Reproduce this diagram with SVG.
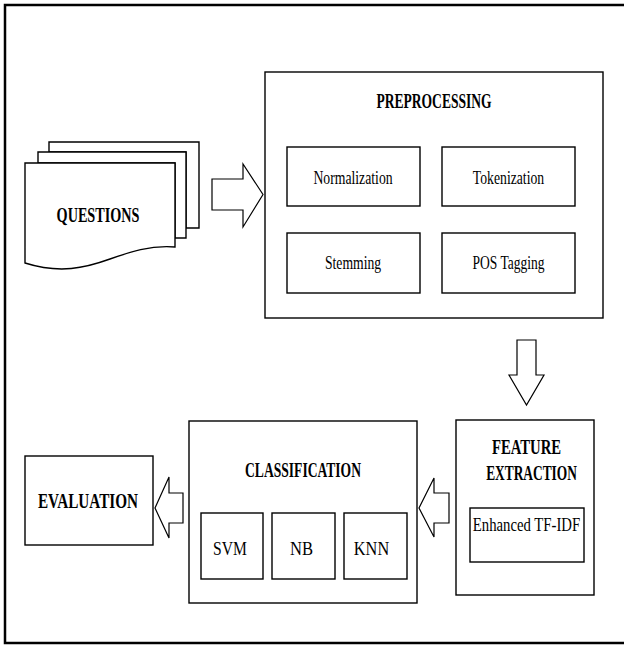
<svg xmlns="http://www.w3.org/2000/svg" width="624" height="646" viewBox="0 0 624 646">
<style>
.box{fill:#fff;stroke:#000;stroke-width:1.4}
.arr{fill:#fff;stroke:#000;stroke-width:1.2;stroke-linejoin:miter}
.t{font-family:'Liberation Serif','DejaVu Serif',serif;fill:#000;text-anchor:middle}
.b{font-weight:bold;font-size:21px}
.r{font-size:19px}
</style>
<rect x="0" y="0" width="624" height="646" fill="#fff"/>
<rect x="5" y="5" width="640" height="638" fill="none" stroke="#000" stroke-width="2.5"/>

<g id="questions">
<path class="box" d="M49,142 H199 V228 H186 V152 H49 Z"/>
<path class="box" d="M38,152 H186 V238 H175 V163 H38 Z"/>
<path class="box" d="M25,163 H175 V247 C150,245 130,252 110,259 C85,268 60,274 25,263 Z"/>
<text class="t b" transform="translate(98,222) scale(0.72,1)" textLength="115" lengthAdjust="spacingAndGlyphs">QUESTIONS</text>
</g>

<g id="preprocessing">
<rect class="box" x="265" y="72" width="338" height="246"/>
<text class="t b" transform="translate(434,108) scale(0.72,1)" textLength="160" lengthAdjust="spacingAndGlyphs">PREPROCESSING</text>
</g>
<g id="normalization">
<rect class="box" x="287" y="147" width="133" height="59"/>
<text class="t r" transform="translate(353,184) scale(0.72,1)" textLength="110" lengthAdjust="spacingAndGlyphs">Normalization</text>
</g>
<g id="tokenization">
<rect class="box" x="442" y="147" width="133" height="59"/>
<text class="t r" transform="translate(508.5,184) scale(0.72,1)" textLength="99" lengthAdjust="spacingAndGlyphs">Tokenization</text>
</g>
<g id="stemming">
<rect class="box" x="287" y="233" width="133" height="60"/>
<text class="t r" transform="translate(353,269) scale(0.72,1)" textLength="78" lengthAdjust="spacingAndGlyphs">Stemming</text>
</g>
<g id="postagging">
<rect class="box" x="442" y="233" width="133" height="60"/>
<text class="t r" transform="translate(508.5,269) scale(0.72,1)" textLength="100" lengthAdjust="spacingAndGlyphs">POS Tagging</text>
</g>

<g id="feature">
<rect class="box" x="456" y="420" width="138" height="175"/>
<text class="t b" transform="translate(526.5,454) scale(0.72,1)" textLength="96" lengthAdjust="spacingAndGlyphs">FEATURE</text>
<text class="t b" transform="translate(531.5,480) scale(0.72,1)" textLength="126" lengthAdjust="spacingAndGlyphs">EXTRACTION</text>
</g>
<g id="tfidf">
<rect class="box" x="470" y="508" width="114" height="54"/>
<text class="t r" transform="translate(526.5,531) scale(0.72,1)" textLength="149" lengthAdjust="spacingAndGlyphs">Enhanced TF-IDF</text>
</g>

<g id="classification">
<rect class="box" x="189" y="421" width="228" height="182"/>
<text class="t b" transform="translate(303,477) scale(0.72,1)" textLength="161" lengthAdjust="spacingAndGlyphs">CLASSIFICATION</text>
</g>
<g id="svm">
<rect class="box" x="201" y="513" width="62" height="66"/>
<text class="t r" transform="translate(230,555) scale(0.72,1)" textLength="47" lengthAdjust="spacingAndGlyphs">SVM</text>
</g>
<g id="nb">
<rect class="box" x="272" y="513" width="63" height="66"/>
<text class="t r" transform="translate(301.5,555) scale(0.72,1)" textLength="32" lengthAdjust="spacingAndGlyphs">NB</text>
</g>
<g id="knn">
<rect class="box" x="344" y="513" width="63" height="66"/>
<text class="t r" transform="translate(371.5,555) scale(0.72,1)" textLength="49" lengthAdjust="spacingAndGlyphs">KNN</text>
</g>

<g id="evaluation">
<rect class="box" x="25" y="456" width="128" height="89"/>
<text class="t b" transform="translate(88,508) scale(0.72,1)" textLength="139" lengthAdjust="spacingAndGlyphs">EVALUATION</text>
</g>

<g id="connectors">
<path class="arr" d="M212,179 H243 V164 L263,194.5 L243,227 V210 H212 Z"/>
<path class="arr" d="M517,340 H536 V375 H544 L526.5,405 L509,375 H517 Z"/>
<path class="arr" d="M449,493 H434 V478 L419,508 L434,537 V523 H449 Z"/>
<path class="arr" d="M183,493 H169 V477 L155,508 L169,538 V523 H183 Z"/>
</g>
</svg>
